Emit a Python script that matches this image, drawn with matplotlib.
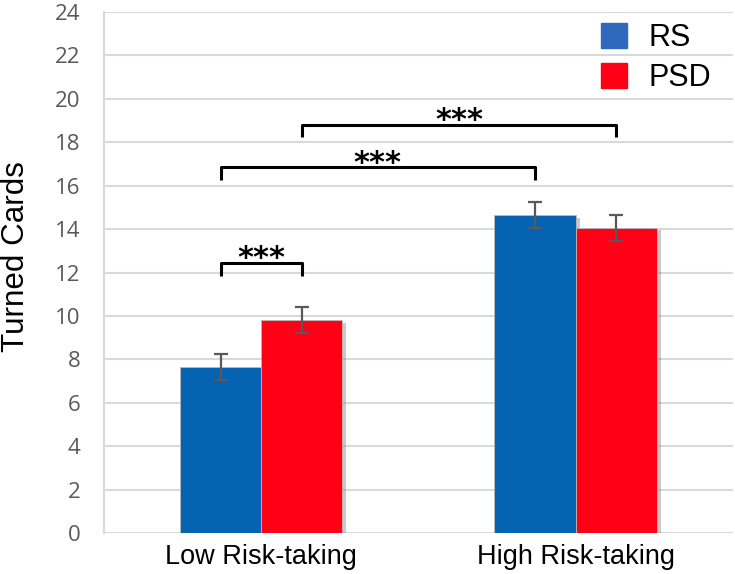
import matplotlib
matplotlib.use("Agg")
import matplotlib.pyplot as plt
import matplotlib.patheffects as pe
from matplotlib.patches import Patch
import numpy as np

categories = ["Low Risk-taking", "High Risk-taking"]
series_names = ["RS", "PSD"]
rs_values = [7.65, 14.65]
psd_values = [9.8, 14.07]
rs_err = [0.6, 0.62]
psd_err = [0.6, 0.6]
yticks = list(range(0, 26, 2))

# significance brackets: (x1, x2, y_top, y_leg)
brackets = [
    ((0, 0), (0, 1), 12.45, 11.85),
    ((0, 0), (1, 0), 16.85, 16.27),
    ((0, 1), (1, 1), 18.8, 18.26),
]

plt.rcParams['font.family'] = ['Liberation Sans', 'DejaVu Sans']

fig = plt.figure(figsize=(7.35, 5.74), dpi=100)
ax = fig.add_axes([0.1415, 0.0714, 0.8555, 0.9076])

x = np.arange(len(categories))
w = 0.258
rs_col = "#0563B1"
psd_col = "#FF0017"

shadow = [pe.SimplePatchShadow(offset=(3, -2), shadow_rgbFace="#888888", alpha=0.45), pe.Normal()]
ax.bar(x - w / 2, rs_values, w, color=rs_col, edgecolor="#BBBBBB", linewidth=0.6, zorder=3,
       path_effects=shadow)
ax.bar(x + w / 2, psd_values, w, color=psd_col, edgecolor="#BBBBBB", linewidth=0.6, zorder=3,
       path_effects=shadow)
ax.errorbar(x - w / 2, rs_values, yerr=rs_err, fmt="none", ecolor="#595959", elinewidth=1.6,
            capsize=5, capthick=1.6, zorder=4)
ax.errorbar(x + w / 2, psd_values, yerr=psd_err, fmt="none", ecolor="#595959", elinewidth=1.6,
            capsize=5, capthick=1.6, zorder=4)

def bar_x(idx):
    g, s = idx
    return x[g] + (-w / 2 if s == 0 else w / 2)

for a, b, ytop, yleg in brackets:
    xa, xb = bar_x(a), bar_x(b)
    ax.plot([xa, xa, xb, xb], [yleg, ytop, ytop, yleg], color="black", lw=2.2,
            solid_joinstyle="round", solid_capstyle="butt", zorder=5)
    ax.annotate("***", xy=((xa + xb) / 2, ytop), xytext=(0, 3), textcoords="offset points",
                ha="center", va="center", fontsize=22, fontweight="bold",
                family="DejaVu Sans", zorder=5)

ax.set_xlim(-0.5, 1.5)
ax.set_ylim(0, 24)
ax.set_yticks(yticks)
ax.yaxis.grid(True, color="#D9D9D9", linewidth=1.5, zorder=0)
ax.set_axisbelow(True)
for s in ["top", "right", "bottom"]:
    ax.spines[s].set_visible(False)
ax.spines["left"].set_color("#D9D9D9")
ax.spines["left"].set_linewidth(1.5)
ax.tick_params(axis="both", length=0)
ax.tick_params(axis="y", labelsize=16, labelcolor="#595959", pad=17)
ax.tick_params(axis="x", labelsize=19.5, labelcolor="black", pad=8)
for t in ax.get_yticklabels():
    t.set_family(["Open Sans", "DejaVu Sans"])
ax.set_xticks(x)
ax.set_xticklabels(categories)
ax.set_ylabel("Turned Cards", fontsize=22.6)
ax.yaxis.set_label_coords(-0.1154, 0.531)

handles = [Patch(facecolor="#2F68BD", edgecolor="#2F68BD"),
           Patch(facecolor="#FF0017", edgecolor="#FF0017")]
leg = ax.legend(handles, series_names, loc="upper right",
                bbox_to_anchor=(711 / 735, 1 - 23 / 574), bbox_transform=fig.transFigure,
                fontsize=22, frameon=False, handlelength=0.85, handleheight=0.85,
                handletextpad=0.69, labelspacing=0.33, borderpad=0, borderaxespad=0)

fig.savefig("out.png", dpi=100)
